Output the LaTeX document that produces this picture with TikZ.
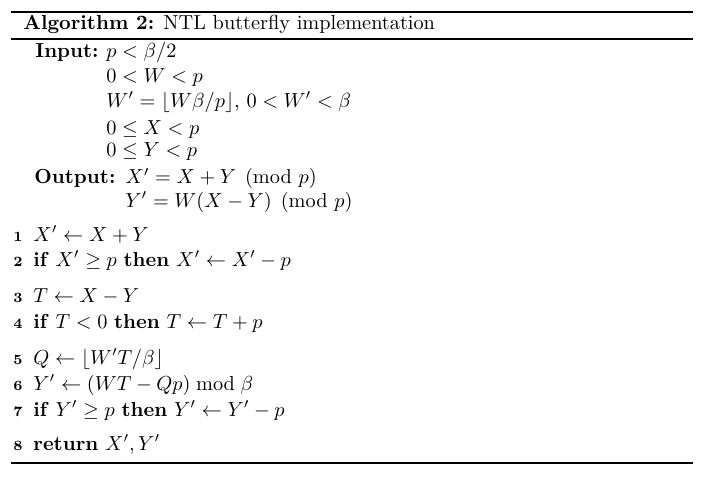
\documentclass[tikz,border=0pt]{standalone}
\usepackage{amsmath}
\begin{document}
\begin{tikzpicture}[x=0.4926pt,y=-0.4926pt,
  txt/.style={anchor=base west,inner sep=0pt},
  num/.style={anchor=base east,inner sep=0pt,font=\scriptsize\bfseries},
  rul/.style={line width=0.8pt}]
\useasboundingbox (0,0) rectangle (707,482);
% rules
\coordinate (tl) at (11,12);  \coordinate (tr) at (693,12);
\coordinate (ml) at (11,39);  \coordinate (mr) at (693,39);
\coordinate (bl) at (11,463); \coordinate (br) at (693,463);
\draw[rul] (tl)--(tr);
\draw[rul] (ml)--(mr);
\draw[rul] (bl)--(br);
%caption
\node[txt] (cap) at (23,29) {\textbf{Algorithm 2:} NTL butterfly implementation};
%input and output
\node[txt] (in) at (35,57.5) {\textbf{Input:}};
\node[txt] (in1) at (106,57.5) {$p<\beta/2$};
\node[txt] (in2) at (106,82) {$0<W<p$};
\node[txt] (in3) at (106,107) {$W'=\lfloor W\beta/p\rfloor$, $0<W'<\beta$};
\node[txt] (in4) at (106,134) {$0\le X<p$};
\node[txt] (in5) at (106,156) {$0\le Y<p$};
\node[txt] (out) at (34,183.5) {\textbf{Output:}};
\node[txt] (out1) at (125,183.5) {$X'=X+Y \pmod{p}$};
\node[txt] (out2) at (125,207) {$Y'=W(X-Y) \pmod{p}$};
%steps
\foreach \n/\y/\t in {1/241/{$X'\gets X+Y$},
  2/266/{\textbf{if} $X'\ge p$ \textbf{then} $X'\gets X'-p$},
  3/302/{$T\gets X-Y$},
  4/328/{\textbf{if} $T<0$ \textbf{then} $T\gets T+p$},
  5/364/{$Q\gets\lfloor W'T/\beta\rfloor$},
  6/390/{$Y'\gets (WT-Qp)\bmod\beta$},
  7/416/{\textbf{if} $Y'\ge p$ \textbf{then} $Y'\gets Y'-p$},
  8/450/{\textbf{return} $X',Y'$}}
{
  \node[num] (n\n) at (23,\y) {\n};
  \node[txt] (s\n) at (33,\y) {\t};
}
\end{tikzpicture}
\end{document}
